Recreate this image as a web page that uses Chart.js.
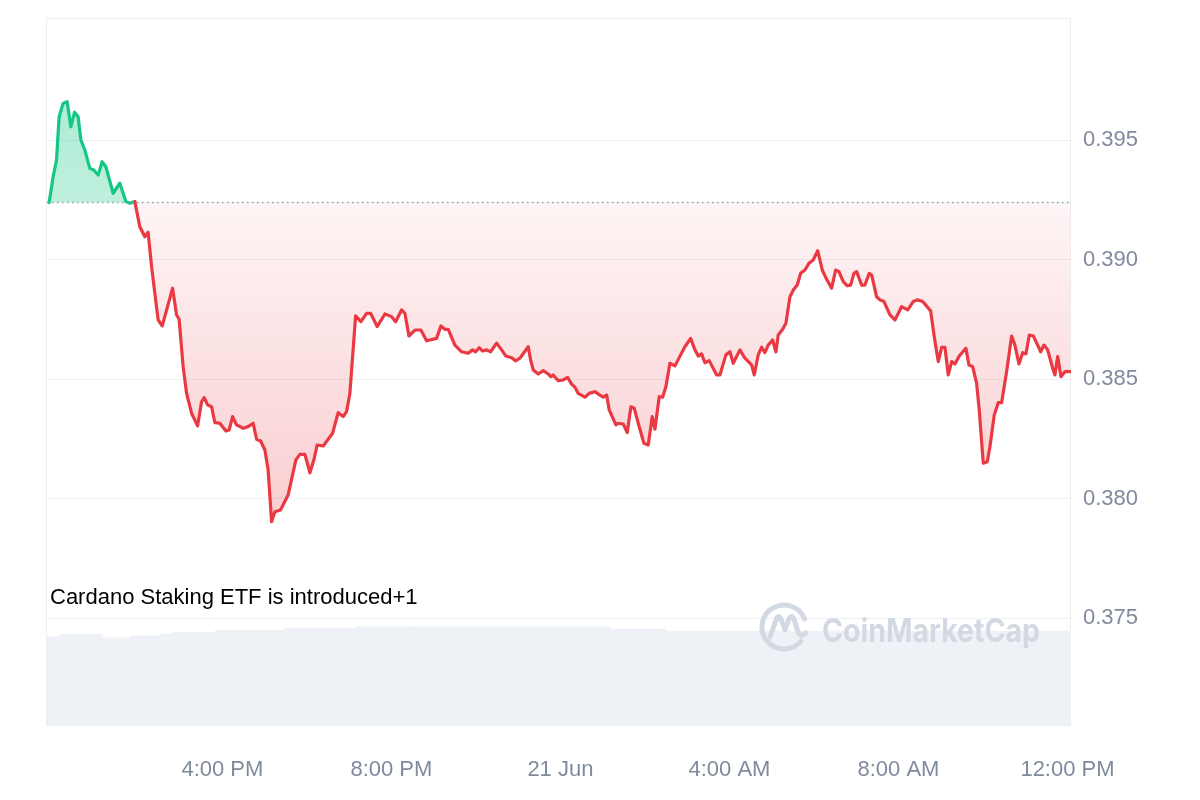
<!DOCTYPE html>
<html>
<head>
<meta charset="utf-8">
<script src="https://cdn.jsdelivr.net/npm/chart.js@4.4.1/dist/chart.umd.min.js"></script>
<style>
html,body{margin:0;padding:0;background:#fff;}
#wrap{position:relative;width:1200px;height:800px;overflow:hidden;}
canvas{display:block;}
#wm{position:absolute;left:0;top:0;pointer-events:none;}
#note{position:absolute;left:50px;top:584px;font-family:"Liberation Sans",Arial,sans-serif;font-size:22px;color:#000;white-space:nowrap;}
</style>
</head>
<body>
<div id="wrap">
<canvas id="c" width="1200" height="800"></canvas>
<svg id="wm" width="1200" height="800" xmlns="http://www.w3.org/2000/svg">
  <g fill="none" stroke="#d3d9e3" stroke-width="5" stroke-linecap="round" stroke-linejoin="round">
    <path d="M 801 641 A 22 22 0 1 1 804.5 619"/>
    <path d="M 770 637 L 776.5 619 Q 778.5 614 781 619 L 785 630 L 789 619 Q 791.5 614 794 619 L 798 632 Q 801 638 806 633"/>
  </g>
  <text x="822" y="642" font-family="Inter, 'Open Sans', sans-serif" font-weight="700" font-size="32" fill="#d3d9e3" textLength="218" lengthAdjust="spacingAndGlyphs">CoinMarketCap</text>
</svg>
<div id="note">Cardano Staking ETF is introduced+1</div>
</div>
<script>
// ---- data (minutes after 12:00 PM, 20 Jun) ----
const TIMES = [-6,-0.3,4.5,8.2,13.9,19.6,24.9,30.1,35.2,39.1,44.7,51.8,57.5,63.6,69.3,74.6,84.9,94.4,103.0,108.6,
115.7,122.8,129.9,134.6,139.5,148.8,154.5,162.2,169.3,175.0,178.6,184.3,189.2,196.3,204.8,210.5,214.2,219.0,224.7,229.3,
236.4,245.0,249.7,254.5,260.2,269.5,276.6,283.7,288.6,294.3,300.4,305.0,309.9,314.6,322.6,333.4,344.4,350.1,357.2,364.3,
370.0,374.6,383.2,396.5,404.4,411.6,416.4,421.1,429.2,436.7,444.8,450.5,459.8,470.8,480.3,486.0,494.5,499.2,504.9,513.4,
521.9,530.0,544.2,550.3,556.0,560.7,570.2,579.7,589.1,595.3,599.6,604.7,609.5,615.2,620.9,629.4,636.5,642.6,650.7,656.4,
662.5,674.3,677.7,681.4,688.5,695.6,702.7,706.5,709.8,716.9,724.0,730.2,735.9,740.6,745.3,754.8,760.9,769.0,776.1,780.8,
785.6,789.3,798.8,802.1,809.2,814.9,820.1,824.8,830.5,838.6,844.7,850.4,854.2,860.3,865.1,869.8,875.5,882.6,890.7,896.8,
904.9,911.0,915.7,920.5,925.2,931.3,941.8,946.5,955.0,960.7,965.4,974.9,982.0,991.5,995.2,1000.9,1005.7,1010.4,1015.1,1021.3,
1026.0,1029.3,1035.6,1040.2,1045.9,1050.6,1056.3,1061.1,1067.2,1072.9,1079.0,1085.3,1091.8,1098.0,1105.1,1110.8,1115.5,1121.6,1127.3,1132.1,
1136.8,1140.6,1147.8,1152.4,1158.5,1162.0,1169.0,1173.7,1179.4,1187.9,1195.0,1204.6,1213.1,1221.0,1226.7,1234.4,1245.7,1250.8,1256.5,1261.4,
1266.0,1270.7,1275.6,1280.2,1286.3,1295.8,1300.1,1305.4,1311.0,1314.7,1320.4,1326.1,1329.9,1336.0,1341.7,1346.5,1353.6,1360.7,1365.4,1371.1,
1376.4,1381.0,1385.8,1391.5,1396.3,1401.9,1406.6,1411.9,1419.0,1422.2,1426.1,1430.8,1436.5,1441.1,1444.3];

const PRICES = [0.39239,0.39347,0.39417,0.39598,0.39654,0.39661,0.39556,0.39617,0.39598,0.39501,0.39459,0.39382,0.39375,0.39354,0.39410,0.39389,0.39278,0.39320,0.39243,0.39236,
0.39243,0.39138,0.39096,0.39115,0.38971,0.38748,0.38723,0.38804,0.38881,0.38769,0.38751,0.38553,0.38441,0.38358,0.38305,0.38406,0.38423,0.38393,0.38385,0.38319,
0.38316,0.38284,0.38288,0.38344,0.38309,0.38295,0.38302,0.38316,0.38249,0.38242,0.38204,0.38121,0.37904,0.37946,0.37953,0.38016,0.38163,0.38186,0.38186,0.38109,
0.38163,0.38225,0.38221,0.38274,0.38360,0.38344,0.38365,0.38441,0.38765,0.38741,0.38776,0.38776,0.38720,0.38773,0.38762,0.38741,0.38790,0.38776,0.38681,0.38706,
0.38706,0.38661,0.38671,0.38723,0.38709,0.38709,0.38643,0.38615,0.38609,0.38623,0.38615,0.38632,0.38618,0.38623,0.38615,0.38651,0.38623,0.38597,0.38590,0.38577,
0.38588,0.38636,0.38581,0.38539,0.38522,0.38536,0.38522,0.38511,0.38518,0.38494,0.38497,0.38508,0.38480,0.38467,0.38441,0.38425,0.38441,0.38448,0.38434,0.38425,
0.38434,0.38372,0.38309,0.38316,0.38313,0.38277,0.38385,0.38379,0.38316,0.38232,0.38225,0.38344,0.38291,0.38427,0.38425,0.38469,0.38567,0.38556,0.38602,0.38636,
0.38671,0.38623,0.38597,0.38606,0.38569,0.38578,0.38518,0.38518,0.38602,0.38615,0.38567,0.38623,0.38588,0.38560,0.38518,0.38602,0.38634,0.38611,0.38643,0.38664,
0.38615,0.38685,0.38709,0.38734,0.38845,0.38873,0.38894,0.38943,0.38957,0.38985,0.38999,0.39038,0.38957,0.38918,0.38881,0.38957,0.38950,0.38908,0.38891,0.38894,
0.38943,0.38950,0.38894,0.38894,0.38943,0.38936,0.38845,0.38832,0.38825,0.38769,0.38748,0.38804,0.38790,0.38825,0.38832,0.38825,0.38786,0.38678,0.38574,0.38634,
0.38634,0.38518,0.38574,0.38564,0.38597,0.38630,0.38560,0.38553,0.38483,0.38372,0.38149,0.38155,0.38218,0.38351,0.38402,0.38402,0.38532,0.38681,0.38643,0.38564,
0.38611,0.38606,0.38685,0.38681,0.38651,0.38615,0.38643,0.38623,0.38546,0.38518,0.38595,0.38511,0.38532,0.38532,0.38532];

const BASE_PRICE = 0.39239;   // opening price (dotted reference line)

// volume (millions USD), one bar per 20 minutes
const VOL_TIMES = [0,20,40,60,80,100,120,140,160,180,200,220,240,260,280,300,320,340,360,380,
400,420,440,460,480,500,520,540,560,580,600,620,640,660,680,700,720,740,760,780,
800,820,840,860,880,900,920,940,960,980,1000,1020,1040,1060,1080,1100,1120,1140,1160,1180,
1200,1220,1240,1260,1280,1300,1320,1340,1360,1380,1400,1420,1440];
const VOLUMES = [618,635,635,635,611,611,625,625,637,649,649,649,665,665,665,665,665,677,677,677,
677,677,688,688,688,688,688,688,688,688,688,688,688,688,688,688,688,688,688,688,
672,672,672,672,658,658,658,658,658,658,658,658,658,658,658,658,658,658,658,658,
658,658,658,658,658,658,658,658,658,658,658,658,658];

const Y_TICKS = [0.375,0.380,0.385,0.390,0.395];
const X_TICKS = [240,480,720,960,1200,1440];
const X_TICK_LABELS = ['4:00 PM','8:00 PM','21 Jun','4:00 AM','8:00 AM','12:00 PM'];

const X_MIN = -9, X_MAX = 1445;
const Y_MIN = 0.37054, Y_MAX = 0.40011;
const VOL_AXIS_MAX = 4950;

const GREEN = '#16c784';
const RED = '#ea3943';
const GRID = '#eef0f3';
const LABEL = '#808a9d';
const FONT = '"Liberation Sans", Arial, sans-serif';

const priceData = TIMES.map((t, i) => ({x: t, y: PRICES[i]}));
const volData = VOL_TIMES.map((t, i) => ({x: t, y: VOLUMES[i]}));
const baseData = [{x: X_MIN, y: BASE_PRICE}, {x: X_MAX, y: BASE_PRICE}];
const PMAX = Math.max(...PRICES), PMIN = Math.min(...PRICES);

function fillGradient(c) {
  const chart = c.chart;
  const area = chart.chartArea;
  const ys = chart.scales && chart.scales.y;
  if (!area || !ys) return 'rgba(234,57,67,0.1)';
  const yTop = ys.getPixelForValue(PMAX);
  const yBase = ys.getPixelForValue(BASE_PRICE);
  const yLow = ys.getPixelForValue(PMIN);
  const g = chart.ctx.createLinearGradient(0, yTop, 0, yLow);
  const f = Math.min(1, Math.max(0, (yBase - yTop) / (yLow - yTop)));
  g.addColorStop(0, 'rgba(22,199,132,0.34)');
  g.addColorStop(f, 'rgba(22,199,132,0.28)');
  g.addColorStop(f, 'rgba(234,57,67,0.05)');
  g.addColorStop(1, 'rgba(234,57,67,0.25)');
  return g;
}

const frame = {
  id: 'frame',
  beforeDatasetsDraw(chart) {
    const a = chart.chartArea, ctx = chart.ctx;
    ctx.save();
    ctx.strokeStyle = '#eceef2';
    ctx.lineWidth = 1;
    ctx.strokeRect(a.left - 0.5, a.top + 0.5, a.right - a.left, a.bottom - a.top);
    ctx.restore();
  }
};

new Chart(document.getElementById('c'), {
  data: {
    datasets: [
      {
        type: 'line',
        data: baseData,
        borderColor: '#939cae',
        borderWidth: 1.5,
        borderDash: [1.5, 3.5],
        pointRadius: 0,
        fill: false,
        yAxisID: 'y',
        order: 0
      },
      {
        type: 'line',
        data: priceData,
        borderColor: RED,
        borderWidth: 3.2,
        borderJoinStyle: 'round',
        borderCapStyle: 'round',
        tension: 0,
        pointRadius: 0,
        backgroundColor: fillGradient,
        fill: {target: {value: BASE_PRICE}},
        segment: {
          borderColor: c => ((c.p0.parsed.y + c.p1.parsed.y) / 2 >= BASE_PRICE ? GREEN : RED)
        },
        yAxisID: 'y',
        order: 1
      },
      {
        type: 'bar',
        data: volData,
        backgroundColor: '#eef1f5',
        borderWidth: 0,
        barPercentage: 1,
        categoryPercentage: 1,
        yAxisID: 'yv',
        order: 3
      }
    ]
  },
  options: {
    responsive: false,
    animation: false,
    devicePixelRatio: 1,
    layout: {padding: {left: 47, top: 18, right: 0, bottom: 0}},
    plugins: {legend: {display: false}, tooltip: {enabled: false}},
    scales: {
      x: {
        type: 'linear',
        min: X_MIN,
        max: X_MAX,
        offset: false,
        grid: {display: false, drawTicks: false, offset: false},
        border: {display: false},
        afterBuildTicks: s => { s.ticks = X_TICKS.map(v => ({value: v})); },
        afterFit: s => { s.height = 75; s.paddingLeft = 0; s.paddingRight = 0; },
        ticks: {
          callback: (v, i) => X_TICK_LABELS[i],
          color: LABEL,
          font: {family: FONT, size: 22},
          padding: 32,
          maxRotation: 0,
          autoSkip: false
        }
      },
      y: {
        type: 'linear',
        position: 'right',
        min: Y_MIN,
        max: Y_MAX,
        grid: {color: GRID, drawTicks: false},
        border: {display: false},
        afterBuildTicks: s => { s.ticks = Y_TICKS.map(v => ({value: v})); },
        afterFit: s => { s.width = 129; s.paddingTop = 0; s.paddingBottom = 0; },
        ticks: {
          callback: v => v.toFixed(3),
          color: LABEL,
          font: {family: FONT, size: 22},
          padding: 12
        }
      },
      yv: {
        type: 'linear',
        display: false,
        min: 0,
        max: VOL_AXIS_MAX
      }
    }
  },
  plugins: [frame]
});
</script>
</body>
</html>
